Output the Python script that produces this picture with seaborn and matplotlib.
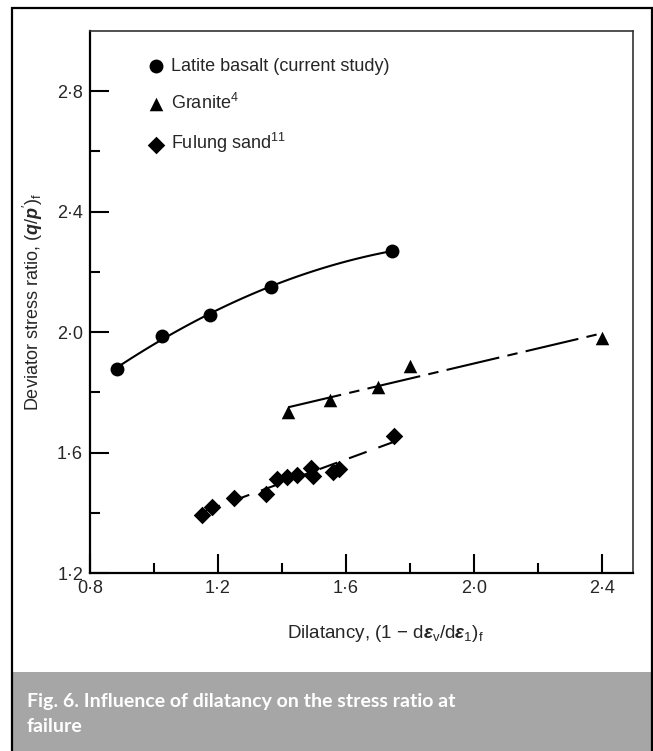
import numpy as np
import pandas as pd
import seaborn as sns
import matplotlib.pyplot as plt
from matplotlib.patches import Rectangle

# values
basalt_x = [0.884, 1.025, 1.175, 1.365, 1.744]
basalt_y = [1.877, 1.986, 2.057, 2.150, 2.270]

granite_x = [1.42, 1.55, 1.70, 1.80, 2.40]
granite_y = [1.736, 1.773, 1.817, 1.888, 1.982]

sand_x = [1.151, 1.180, 1.250, 1.350, 1.383, 1.415, 1.448, 1.490, 1.498, 1.560, 1.578, 1.750]
sand_y = [1.393, 1.420, 1.448, 1.462, 1.513, 1.518, 1.526, 1.550, 1.522, 1.537, 1.546, 1.656]

x_ticks = [0.8, 1.2, 1.6, 2.0, 2.4]
y_ticks = [1.2, 1.6, 2.0, 2.4, 2.8]
x_minor = [1.0, 1.4, 1.8, 2.2]
y_minor = [1.4, 1.8, 2.2, 2.6]

basalt = pd.DataFrame({'x': basalt_x, 'y': basalt_y})
granite = pd.DataFrame({'x': granite_x, 'y': granite_y})
sand = pd.DataFrame({'x': sand_x, 'y': sand_y})

sns.set_style('ticks')
plt.rcParams['font.family'] = ['Liberation Sans', 'DejaVu Sans']
plt.rcParams['mathtext.fontset'] = 'custom'
plt.rcParams['mathtext.rm'] = 'Liberation Sans'
plt.rcParams['mathtext.it'] = 'Liberation Sans:italic'
plt.rcParams['mathtext.bf'] = 'Liberation Sans:bold'
plt.rcParams['mathtext.bfit'] = 'Liberation Sans:italic:bold'

W, H = 653, 751
fig = plt.figure(figsize=(W / 100, H / 100), dpi=100)
ax = fig.add_axes([90 / W, 1 - 573 / H, 543 / W, 542 / H])

FS = 13
granite_dash = (0, (26, 4, 5, 4))
sand_dash = (0, (9, 6))
pts = {'color': 'black', 'zorder': 3, 'linewidths': 0, 'alpha': 1}

sns.regplot(data=basalt, x='x', y='y', order=2, ci=None, ax=ax, marker='o',
            label='Latite basalt (current study)',
            scatter_kws={**pts, 's': 100},
            line_kws={'color': 'black', 'lw': 1.5})
sns.regplot(data=granite, x='x', y='y', ci=None, ax=ax, marker='^',
            label='Granite$^{4}$',
            scatter_kws={**pts, 's': 95},
            line_kws={'color': 'black', 'lw': 1.5, 'ls': granite_dash})
sns.regplot(data=sand, x='x', y='y', ci=None, ax=ax, marker='D',
            label='Fulung sand$^{11}$',
            scatter_kws={**pts, 's': 80},
            line_kws={'color': 'black', 'lw': 1.5, 'ls': sand_dash})

ax.set_xlim(0.8, 2.497)
ax.set_ylim(1.2, 3.0)
ax.set_xticks(x_ticks)
ax.set_yticks(y_ticks)
ax.set_xticks(x_minor, minor=True)
ax.set_yticks(y_minor, minor=True)
ax.set_xticklabels([f'{v:.1f}'.replace('.', '·') for v in x_ticks])
ax.set_yticklabels([f'{v:.1f}'.replace('.', '·') for v in y_ticks])
ax.tick_params(which='major', direction='in', length=13.5, width=1.5,
               labelsize=FS, pad=5, color='black')
ax.tick_params(which='minor', direction='in', length=7, width=1.5, color='black')
for s in ['left', 'bottom']:
    ax.spines[s].set_linewidth(1.6)
    ax.spines[s].set_color('black')
for s in ['top', 'right']:
    ax.spines[s].set_linewidth(1.2)
    ax.spines[s].set_color('#333333')

ax.set_xlabel(r'Dilatancy, (1 − d$\mathbfit{\varepsilon}_\mathrm{v}$/d$\mathbfit{\varepsilon}_\mathrm{1}$)$_\mathrm{f}$',
              fontsize=FS + 0.5)
ax.set_ylabel(r"Deviator stress ratio, ($\mathbfit{q}$/$\mathbfit{p}'$)$_\mathrm{f}$", fontsize=FS)
ax.xaxis.set_label_coords((385 - 90) / 543, -(633 - 573) / 542)
ax.xaxis.label.set_va('center')
ax.yaxis.set_label_coords((33 - 90) / 543, 0.5)
ax.yaxis.label.set_va('center')

ax.legend(loc='upper left', bbox_to_anchor=(146 / W, 1 - 58 / H),
          bbox_transform=fig.transFigure, frameon=False, fontsize=FS,
          handlelength=1.1, handletextpad=0.3, labelspacing=1.0,
          borderpad=0, borderaxespad=0, scatterpoints=1)

# caption band and outer frame
fig.add_artist(Rectangle((12 / W, 0), 640 / W, 79 / H, transform=fig.transFigure,
                         facecolor='#a6a6a6', edgecolor='none', zorder=0))
fig.add_artist(Rectangle((12 / W, -0.05), 640 / W, 1 - 8 / H + 0.05,
                         transform=fig.transFigure, fill=False,
                         edgecolor='black', lw=1.6, zorder=5, clip_on=False))
fig.text(27 / W, 1 - 714 / H,
         'Fig. 6. Influence of dilatancy on the stress ratio at\nfailure',
         color='white', fontsize=14, fontweight='bold', family='Lato',
         va='center', ha='left', linespacing=1.5)

fig.savefig('out.png', dpi=100)
